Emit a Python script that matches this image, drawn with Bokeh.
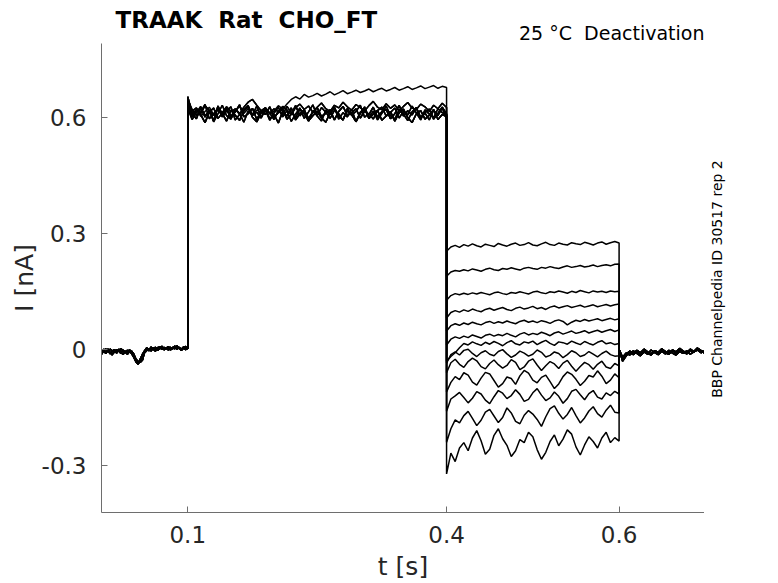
import math
import numpy as np
from bokeh.plotting import figure
from bokeh.layouts import column, row
from bokeh.models import Range1d, FixedTicker, ColumnDataSource
from bokeh.core.properties import value
from bokeh.embed import file_html
from bokeh.resources import INLINE

# ---- data ----
x_ticks = [0.1, 0.4, 0.6]
y_ticks = [-0.3, 0.0, 0.3, 0.6]
x_tick_labels = ["0.1", "0.4", "0.6"]
y_tick_labels = ["-0.3", "0", "0.3", "0.6"]

NBSP = "\u00a0"
title_text = "TRAAK " + NBSP + "Rat " + NBSP + "CHO_FT"
condition_text = "25 °C " + NBSP + "Deactivation"
source_text = "BBP Channelpedia ID 30517 rep 2"
x_label = "t [s]"
y_label = "I [nA]"

# segment boundaries of the protocol [s]
seg_t = [0.0, 0.1, 0.4, 0.6, 0.699]

# holding before the step, 0 .. 0.1 s
pre_a = [0.000, -0.004, 0.002, -0.006, 0.001, -0.003, -0.008, 0.000, -0.005, 0.003,
         -0.004, -0.007, -0.002, -0.006, -0.004, -0.012, -0.025, -0.031, -0.033, -0.027,
         -0.006, 0.002, -0.003, 0.004, 0.000, 0.006, -0.002, 0.003, 0.007, 0.001,
         0.005, -0.001, 0.006, 0.002, 0.008, 0.001, 0.005, -0.002, 0.004, 0.000, 0.003]
pre_b = [-0.006, 0.001, -0.009, -0.002, -0.011, -0.004, 0.000, -0.008, -0.003, -0.010,
         -0.001, -0.007, -0.012, -0.005, -0.009, -0.016, -0.028, -0.036, -0.030, -0.019,
         -0.008, -0.002, 0.003, -0.004, 0.005, -0.001, 0.004, 0.008, 0.000, 0.006,
         0.002, 0.007, -0.001, 0.004, 0.009, 0.003, 0.006, 0.001, 0.007, 0.002, 0.004]
pre_c = [-0.012, -0.003, -0.010, 0.002, -0.007, -0.014, -0.001, -0.009, 0.001, -0.006,
         -0.013, -0.004, -0.008, 0.000, -0.011, -0.020, -0.032, -0.038, -0.024, -0.012,
         -0.003, 0.005, -0.002, 0.007, 0.001, -0.004, 0.006, 0.002, 0.009, -0.001,
         0.004, 0.008, 0.000, 0.006, 0.002, 0.010, 0.003, -0.001, 0.005, 0.008, 0.002]

# activating step, 0.1 .. 0.4 s
step_a = [0.655, 0.612, 0.598, 0.627, 0.605, 0.619, 0.593, 0.631, 0.608, 0.622,
          0.600, 0.616, 0.634, 0.603, 0.611, 0.625, 0.596, 0.618, 0.609, 0.629,
          0.601, 0.614, 0.623, 0.597, 0.610, 0.632, 0.606, 0.620, 0.599, 0.615,
          0.627, 0.604, 0.612, 0.621, 0.595, 0.617, 0.630, 0.607, 0.613, 0.624,
          0.600, 0.618, 0.609, 0.628, 0.602, 0.616, 0.622, 0.598, 0.611, 0.633,
          0.605, 0.619, 0.608, 0.626, 0.601, 0.615, 0.623, 0.597, 0.612, 0.628, 0.610]
step_b = [0.640, 0.603, 0.621, 0.609, 0.588, 0.615, 0.626, 0.599, 0.612, 0.592,
          0.620, 0.607, 0.594, 0.618, 0.629, 0.602, 0.590, 0.613, 0.624, 0.598,
          0.609, 0.587, 0.617, 0.605, 0.626, 0.595, 0.611, 0.621, 0.593, 0.606,
          0.618, 0.600, 0.589, 0.614, 0.627, 0.603, 0.596, 0.619, 0.608, 0.591,
          0.615, 0.625, 0.599, 0.610, 0.620, 0.594, 0.605, 0.617, 0.592, 0.613,
          0.623, 0.601, 0.588, 0.611, 0.619, 0.597, 0.607, 0.622, 0.596, 0.609, 0.604]
step_c = [0.630, 0.618, 0.626, 0.611, 0.632, 0.620, 0.607, 0.625, 0.614, 0.629,
          0.617, 0.623, 0.610, 0.628, 0.641, 0.648, 0.633, 0.619, 0.626, 0.612,
          0.624, 0.616, 0.630, 0.621, 0.609, 0.627, 0.636, 0.622, 0.631, 0.615,
          0.628, 0.639, 0.624, 0.617, 0.633, 0.626, 0.641, 0.629, 0.620, 0.635,
          0.627, 0.618, 0.632, 0.643, 0.628, 0.621, 0.637, 0.625, 0.634, 0.619,
          0.630, 0.640, 0.626, 0.622, 0.636, 0.629, 0.617, 0.633, 0.624, 0.638, 0.627]
step_d = [0.625, 0.596, 0.614, 0.630, 0.602, 0.620, 0.590, 0.611, 0.633, 0.606,
          0.597, 0.624, 0.612, 0.589, 0.618, 0.608, 0.631, 0.600, 0.621, 0.594,
          0.613, 0.628, 0.603, 0.619, 0.591, 0.610, 0.626, 0.599, 0.616, 0.634,
          0.605, 0.592, 0.620, 0.609, 0.628, 0.597, 0.614, 0.603, 0.623, 0.590,
          0.611, 0.629, 0.601, 0.618, 0.595, 0.612, 0.631, 0.606, 0.597, 0.621,
          0.610, 0.593, 0.616, 0.627, 0.600, 0.613, 0.595, 0.620, 0.606, 0.626, 0.598]
step_e = [0.648, 0.622, 0.607, 0.616, 0.635, 0.598, 0.611, 0.624, 0.603, 0.618,
          0.629, 0.595, 0.609, 0.621, 0.632, 0.607, 0.615, 0.600, 0.626, 0.613,
          0.596, 0.619, 0.608, 0.630, 0.614, 0.601, 0.623, 0.611, 0.592, 0.618,
          0.606, 0.627, 0.615, 0.599, 0.620, 0.611, 0.594, 0.625, 0.607, 0.617,
          0.633, 0.602, 0.612, 0.597, 0.619, 0.628, 0.605, 0.614, 0.626, 0.600,
          0.617, 0.608, 0.631, 0.613, 0.595, 0.621, 0.610, 0.601, 0.624, 0.614, 0.608]
step_hi = [0.645, 0.611, 0.622, 0.604, 0.617, 0.628, 0.609, 0.620, 0.613, 0.626,
           0.606, 0.619, 0.630, 0.612, 0.624, 0.608, 0.621, 0.615, 0.627, 0.610,
           0.618, 0.632, 0.623, 0.636, 0.648, 0.655, 0.649, 0.661, 0.654, 0.658,
           0.664, 0.657, 0.662, 0.668, 0.660, 0.665, 0.671, 0.663, 0.667, 0.672,
           0.666, 0.670, 0.675, 0.668, 0.673, 0.677, 0.670, 0.674, 0.679, 0.672,
           0.676, 0.681, 0.674, 0.678, 0.683, 0.676, 0.680, 0.684, 0.677, 0.682, 0.679]

# deactivation tails, 0.4 .. 0.6 s (one per test potential)
tail_01 = [0.255, 0.266, 0.270, 0.265, 0.272, 0.268, 0.274, 0.269, 0.266, 0.273, 0.270, 0.267, 0.275, 0.271,
           0.268, 0.273, 0.276, 0.270, 0.272, 0.277, 0.271, 0.269, 0.274, 0.278, 0.272, 0.270, 0.276, 0.273,
           0.271, 0.277, 0.274, 0.272, 0.278, 0.275, 0.271, 0.276, 0.279, 0.273, 0.277, 0.280, 0.276]
tail_02 = [0.190, 0.201, 0.205, 0.203, 0.207, 0.204, 0.209, 0.206, 0.203, 0.208, 0.211, 0.207, 0.205, 0.210,
           0.208, 0.212, 0.209, 0.206, 0.211, 0.213, 0.210, 0.208, 0.213, 0.211, 0.215, 0.212, 0.210, 0.214,
           0.217, 0.213, 0.215, 0.218, 0.214, 0.216, 0.219, 0.215, 0.218, 0.220, 0.217, 0.221, 0.222]
tail_03 = [0.128, 0.140, 0.145, 0.142, 0.146, 0.143, 0.147, 0.144, 0.148, 0.145, 0.142, 0.147, 0.149, 0.145,
           0.143, 0.148, 0.146, 0.150, 0.147, 0.144, 0.149, 0.151, 0.147, 0.145, 0.150, 0.148, 0.152, 0.149,
           0.146, 0.151, 0.148, 0.153, 0.150, 0.147, 0.152, 0.149, 0.151, 0.148, 0.152, 0.150, 0.151]
tail_04 = [0.082, 0.096, 0.101, 0.097, 0.103, 0.099, 0.105, 0.101, 0.098, 0.104, 0.107, 0.102, 0.106, 0.109,
           0.104, 0.101, 0.107, 0.110, 0.105, 0.108, 0.112, 0.106, 0.109, 0.104, 0.110, 0.113, 0.108, 0.111,
           0.114, 0.109, 0.112, 0.115, 0.110, 0.113, 0.116, 0.111, 0.114, 0.117, 0.113, 0.116, 0.118]
tail_05 = [0.048, 0.062, 0.067, 0.063, 0.069, 0.065, 0.071, 0.067, 0.064, 0.070, 0.073, 0.068, 0.072, 0.069,
           0.074, 0.070, 0.067, 0.073, 0.076, 0.071, 0.074, 0.070, 0.075, 0.072, 0.068, 0.074, 0.077, 0.073,
           0.064, 0.071, 0.076, 0.073, 0.078, 0.074, 0.077, 0.080, 0.075, 0.078, 0.081, 0.077, 0.080]
tail_06 = [0.012, 0.027, 0.033, 0.029, 0.035, 0.031, 0.038, 0.034, 0.030, 0.037, 0.040, 0.035, 0.039, 0.036,
           0.042, 0.037, 0.033, 0.040, 0.044, 0.038, 0.042, 0.039, 0.045, 0.041, 0.036, 0.043, 0.046, 0.040,
           0.044, 0.048, 0.042, 0.045, 0.049, 0.043, 0.047, 0.050, 0.045, 0.049, 0.052, 0.047, 0.051]
tail_07 = [-0.030, -0.018, -0.008, 0.005, 0.016, 0.012, 0.020, 0.015, 0.011, 0.019, 0.014, 0.021, 0.016, 0.010,
           0.018, 0.023, 0.015, 0.012, 0.020, 0.017, 0.022, 0.013, 0.019, 0.024, 0.016, 0.011, 0.020, 0.018,
           0.014, 0.022, 0.017, 0.013, 0.021, 0.016, 0.012, 0.019, 0.023, 0.015, 0.018, 0.013, 0.016]
tail_08 = [-0.035, -0.013, -0.006, -0.014, -0.002, 0.001, -0.010, -0.018, -0.008, -0.003, -0.012, -0.016, -0.005,
           0.000, -0.011, -0.020, -0.014, -0.004, -0.009, -0.017, -0.012, -0.001, -0.007, -0.019, -0.015, -0.006,
           -0.010, -0.021, -0.013, -0.003, -0.008, -0.018, -0.014, -0.005, -0.012, -0.019, -0.010, -0.004, -0.013,
           -0.017, -0.016]
tail_09 = [-0.060, -0.034, -0.025, -0.038, -0.046, -0.031, -0.022, -0.029, -0.044, -0.050, -0.036, -0.027, -0.039,
           -0.048, -0.041, -0.026, -0.033, -0.052, -0.045, -0.030, -0.024, -0.040, -0.054, -0.042, -0.031, -0.037,
           -0.049, -0.035, -0.028, -0.043, -0.056, -0.044, -0.033, -0.039, -0.051, -0.038, -0.030, -0.045, -0.049,
           -0.036, -0.042]
tail_10 = [-0.110, -0.085, -0.070, -0.078, -0.060, -0.066, -0.084, -0.092, -0.074, -0.059, -0.063, -0.080, -0.097,
           -0.088, -0.071, -0.075, -0.090, -0.068, -0.054, -0.061, -0.079, -0.086, -0.072, -0.066, -0.083, -0.101,
           -0.089, -0.070, -0.058, -0.064, -0.077, -0.093, -0.082, -0.067, -0.071, -0.055, -0.069, -0.088, -0.079,
           -0.063, -0.073]
tail_11 = [-0.160, -0.128, -0.120, -0.111, -0.124, -0.138, -0.126, -0.109, -0.115, -0.131, -0.140, -0.122, -0.106,
           -0.113, -0.127, -0.119, -0.104, -0.116, -0.134, -0.129, -0.112, -0.101, -0.118, -0.132, -0.125, -0.110,
           -0.121, -0.139, -0.127, -0.108, -0.103, -0.117, -0.130, -0.114, -0.106, -0.123, -0.128, -0.112, -0.119,
           -0.108, -0.115]
tail_12 = [-0.240, -0.205, -0.182, -0.190, -0.171, -0.160, -0.178, -0.197, -0.183, -0.162, -0.155, -0.172, -0.189,
           -0.176, -0.151, -0.164, -0.186, -0.192, -0.170, -0.158, -0.167, -0.181, -0.199, -0.174, -0.153, -0.146,
           -0.165, -0.180, -0.168, -0.150, -0.171, -0.190, -0.177, -0.159, -0.148, -0.166, -0.175, -0.157, -0.144,
           -0.162, -0.164]
tail_13 = [-0.322, -0.268, -0.290, -0.255, -0.241, -0.262, -0.229, -0.210, -0.236, -0.271, -0.258, -0.222, -0.205,
           -0.231, -0.248, -0.277, -0.262, -0.233, -0.241, -0.214, -0.226, -0.259, -0.284, -0.266, -0.238, -0.221,
           -0.249, -0.232, -0.208, -0.219, -0.252, -0.273, -0.247, -0.226, -0.238, -0.255, -0.229, -0.214, -0.241,
           -0.228, -0.237]

# back to holding, 0.6 .. 0.699 s
post_a = [0.000, -0.024, -0.012, -0.004, -0.010, -0.002, -0.008, 0.001, -0.006, -0.011, -0.003, -0.007, 0.002,
          -0.005, -0.009, -0.001, -0.006, 0.003, -0.004, -0.008, 0.001, -0.005, 0.004, -0.002, -0.006]
post_b = [0.000, -0.030, -0.016, -0.007, -0.013, -0.005, -0.011, -0.002, -0.009, -0.014, -0.004, -0.010, -0.001,
          -0.008, -0.012, -0.003, -0.009, 0.000, -0.006, -0.011, -0.002, -0.007, 0.001, -0.004, -0.009]
post_c = [0.000, -0.020, -0.009, -0.014, -0.003, -0.010, -0.016, -0.006, -0.012, -0.001, -0.008, -0.013, -0.004,
          -0.011, -0.002, -0.009, -0.014, -0.005, -0.010, -0.003, -0.012, -0.006, -0.001, -0.008, -0.004]

tails = [tail_01, tail_02, tail_03, tail_04, tail_05, tail_06, tail_07,
         tail_08, tail_09, tail_10, tail_11, tail_12, tail_13]
pres = [pre_a, pre_b, pre_c]
steps = [step_a, step_b, step_c, step_d, step_e]
posts = [post_a, post_b, post_c]

xs, ys = [], []
for i, tail in enumerate(tails):
    st = step_hi if i == 0 else steps[(i - 1) % len(steps)]
    segs = [pres[i % 3], st, tail, posts[i % 3]]
    tx, ty = [], []
    for k, seg in enumerate(segs):
        tx.extend(np.linspace(seg_t[k], seg_t[k + 1], len(seg)).tolist())
        ty.extend(seg)
    xs.append(tx)
    ys.append(ty)

FONT = "DejaVu Sans"
AX_GRAY = "#6e6e6e"
TXT = "#262626"

W, H = 778, 583
HEAD_H = 43
LEFT, RIGHT_STRIP, BOTTOM = 101, 74, 71
MAIN_W = W - RIGHT_STRIP
MAIN_H = H - HEAD_H
FRAME_H = MAIN_H - BOTTOM

# ---- header strip (title + condition), coordinates in pixels from its bottom-left ----
head = figure(width=W, height=HEAD_H, output_backend="svg", toolbar_location=None, title=None,
              x_range=Range1d(0, W), y_range=Range1d(0, HEAD_H),
              x_axis_location=None, y_axis_location=None,
              min_border_left=0, min_border_right=0, min_border_top=0, min_border_bottom=0)
head.outline_line_color = None
head.grid.visible = False
head.text(x=[115], y=[HEAD_H - 19.5], text=[title_text], text_font=value(FONT), text_font_size=value("23px"),
          text_font_style="bold", text_color="black", text_align="left", text_baseline="middle")
head.text(x=[704], y=[HEAD_H - 32.0], text=[condition_text], text_font=value(FONT), text_font_size=value("19px"),
          text_color="black", text_align="right", text_baseline="middle")

# ---- main axes ----
p = figure(width=MAIN_W, height=MAIN_H, output_backend="svg", toolbar_location=None, title=None,
           x_range=Range1d(0.0, 0.699), y_range=Range1d(-0.422, 0.793),
           min_border_left=LEFT, min_border_right=0, min_border_top=0, min_border_bottom=BOTTOM)
p.outline_line_color = None
p.xgrid.visible = False
p.ygrid.visible = False

p.multi_line(xs="xs", ys="ys", source=ColumnDataSource(dict(xs=xs, ys=ys)),
             line_color="black", line_width=1.5)

for ax, ticks, labels in ((p.xaxis[0], x_ticks, x_tick_labels), (p.yaxis[0], y_ticks, y_tick_labels)):
    ax.ticker = FixedTicker(ticks=ticks)
    ax.major_label_overrides = {t: l for t, l in zip(ticks, labels)}
    ax.axis_line_color = AX_GRAY
    ax.major_tick_line_color = AX_GRAY
    ax.major_tick_in = 6
    ax.major_tick_out = 0
    ax.minor_tick_line_color = None
    ax.major_label_text_font = FONT
    ax.major_label_text_font_size = "23px"
    ax.major_label_text_color = TXT
    ax.axis_label_text_font = FONT
    ax.axis_label_text_font_size = "25px"
    ax.axis_label_text_font_style = "normal"
    ax.axis_label_text_color = TXT
p.xaxis[0].axis_label = x_label
p.yaxis[0].axis_label = y_label
p.xaxis[0].major_label_standoff = 13
p.xaxis[0].axis_label_standoff = 6
p.yaxis[0].major_label_standoff = 15
p.yaxis[0].axis_label_standoff = 0

# ---- right strip (source note), same borders as the main axes ----
side = figure(width=RIGHT_STRIP, height=MAIN_H, output_backend="svg", toolbar_location=None, title=None,
              x_range=Range1d(0, RIGHT_STRIP), y_range=Range1d(0, FRAME_H),
              x_axis_location=None, y_axis_location=None,
              min_border_left=0, min_border_right=0, min_border_top=0, min_border_bottom=BOTTOM)
side.outline_line_color = None
side.grid.visible = False
side.text(x=[12], y=[FRAME_H - (278.5 - HEAD_H)], text=[source_text], angle=math.pi / 2, text_font=value(FONT),
          text_font_size=value("14px"), text_color="black", text_align="center", text_baseline="middle")

layout = column(head, row(p, side))
open("out.html", "w").write(file_html(layout, INLINE))
